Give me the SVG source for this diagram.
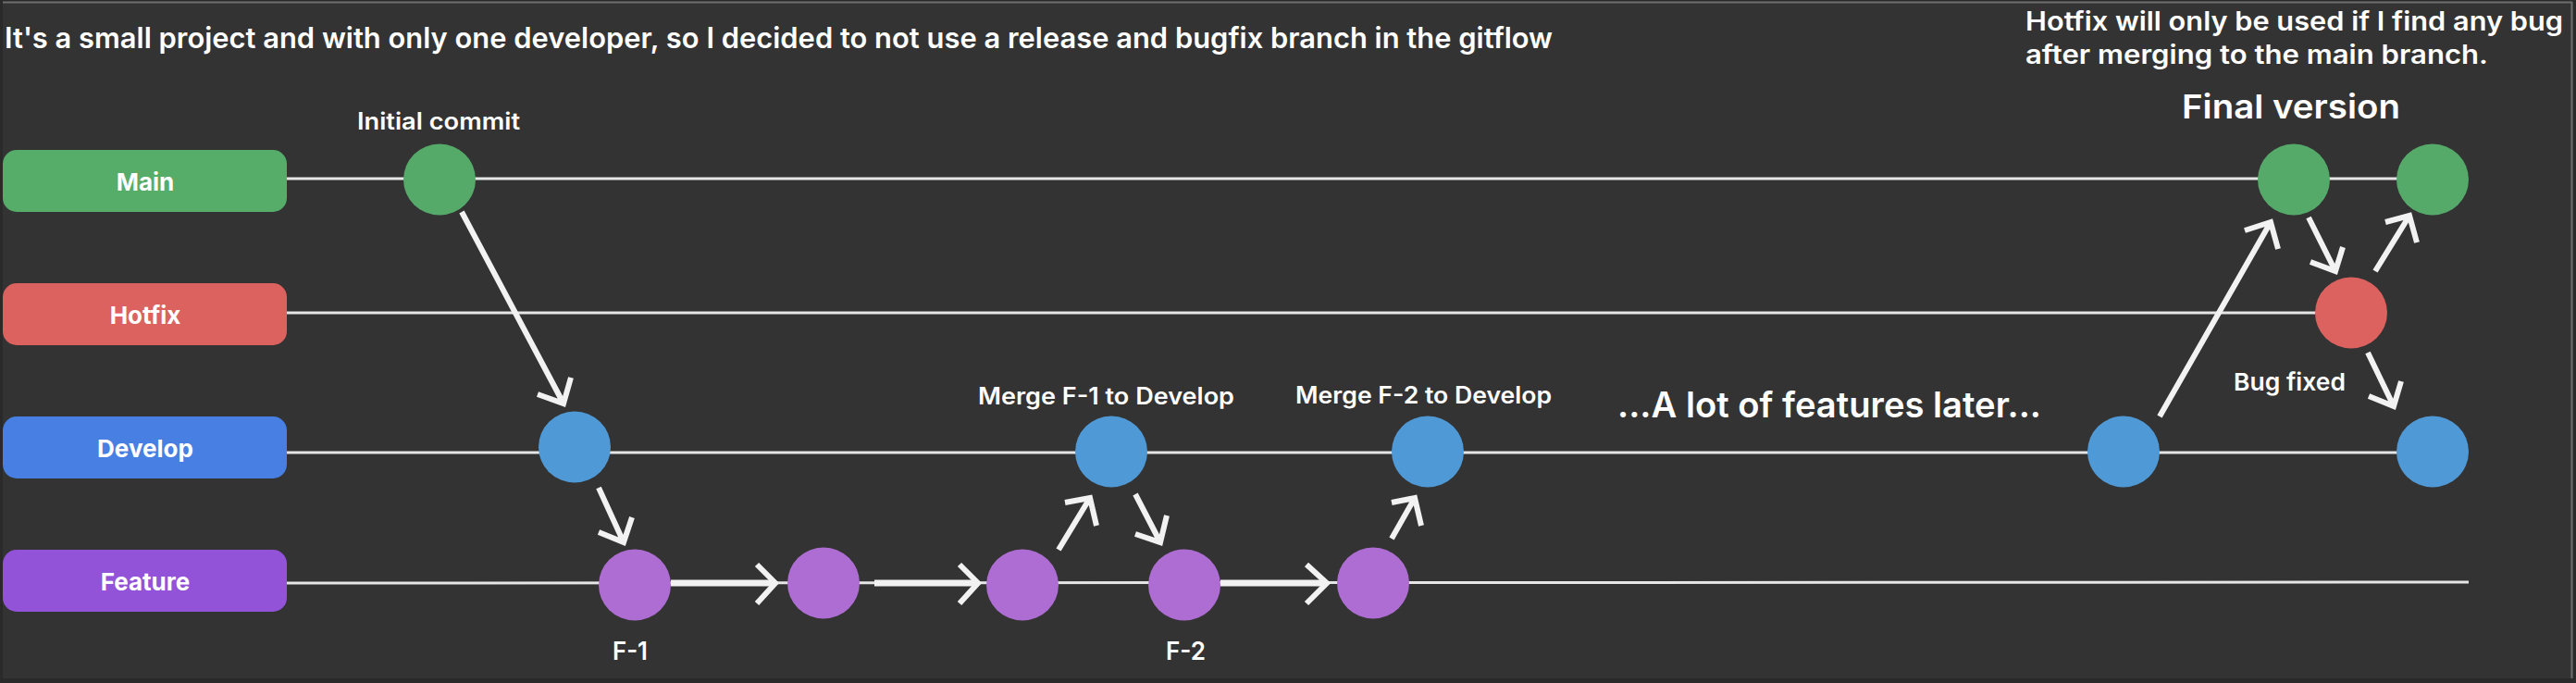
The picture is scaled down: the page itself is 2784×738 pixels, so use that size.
<svg xmlns="http://www.w3.org/2000/svg" width="2784" height="738" viewBox="0 0 2784 738">
<style>
.t{font-family:Inter,"Noto Sans","Liberation Sans",sans-serif;font-weight:600;fill:#ffffff}
.lbl{font-family:Inter,"Noto Sans","Liberation Sans",sans-serif;font-weight:700;fill:#ffffff;font-size:26px;text-anchor:middle}
.lane{stroke:#e6e6e6;stroke-width:3;fill:none}
.arr{stroke:#f2f2f2;stroke-width:6;fill:none;stroke-linecap:butt;stroke-linejoin:miter}
.harr{stroke:#f2f2f2;stroke-width:7;fill:none}
.main{fill:#55aa6a}.hot{fill:#db625e}.dev{fill:#4f9ad6}.feat{fill:#ae6dd2}
</style>
<rect x="0" y="0" width="2784" height="738" fill="#2a2a2a"/>
<rect x="3" y="2" width="2777" height="731" fill="#333333"/>
<line x1="3" y1="2.5" x2="2780" y2="2.5" stroke="#6e6e6e" stroke-width="2"/>
<line x1="2779.5" y1="2" x2="2779.5" y2="733" stroke="#6e6e6e" stroke-width="2"/>

<g id="texts">
<text class="t" x="5" y="52" font-size="31" textLength="1673" lengthAdjust="spacingAndGlyphs">It's a small project and with only one developer, so I decided to not use a release and bugfix branch in the gitflow</text>
<text class="t" x="2189" y="33" font-size="28" textLength="581" lengthAdjust="spacingAndGlyphs">Hotfix will only be used if I find any bug</text>
<text class="t" x="2189" y="69" font-size="28" textLength="500" lengthAdjust="spacingAndGlyphs">after merging to the main branch.</text>
<text class="t" x="2358" y="128" font-size="36" textLength="236" lengthAdjust="spacingAndGlyphs">Final version</text>
<text class="t" x="386" y="140" font-size="25" textLength="176" lengthAdjust="spacingAndGlyphs">Initial commit</text>
<text class="t" x="1057" y="437" font-size="25" textLength="277" lengthAdjust="spacingAndGlyphs">Merge F-1 to Develop</text>
<text class="t" x="1400" y="436" font-size="25" textLength="277" lengthAdjust="spacingAndGlyphs">Merge F-2 to Develop</text>
<text class="t" x="1748" y="451" font-size="38" textLength="458" lengthAdjust="spacingAndGlyphs">...A lot of features later...</text>
<text class="t" x="2414" y="422" font-size="26" textLength="121" lengthAdjust="spacingAndGlyphs">Bug fixed</text>
<text class="t" x="662" y="713" font-size="27" textLength="38" lengthAdjust="spacingAndGlyphs">F-1</text>
<text class="t" x="1260" y="713" font-size="27" textLength="43" lengthAdjust="spacingAndGlyphs">F-2</text>
</g>

<g id="lanes">
<line class="lane" x1="310" y1="193" x2="2629" y2="193"/>
<line class="lane" x1="310" y1="338" x2="2541" y2="338"/>
<line class="lane" x1="310" y1="489" x2="2629" y2="489"/>
<line class="lane" x1="310" y1="630" x2="2668" y2="629"/>
</g>

<g id="branch-main"><rect x="3" y="162" width="307" height="67" rx="15" fill="#56ac69"/><text class="lbl" x="157" y="206">Main</text></g>
<g id="branch-hotfix"><rect x="3" y="306" width="307" height="67" rx="15" fill="#db625e"/><text class="lbl" x="157" y="350">Hotfix</text></g>
<g id="branch-develop"><rect x="3" y="450" width="307" height="67" rx="15" fill="#477fe2"/><text class="lbl" x="157" y="494">Develop</text></g>
<g id="branch-feature"><rect x="3" y="594" width="307" height="67" rx="15" fill="#9253d8"/><text class="lbl" x="157" y="638">Feature</text></g>

<g id="commit-main-1"><ellipse class="main" cx="475" cy="194" rx="39" ry="38.5"/></g>
<g id="commit-main-2"><ellipse class="main" cx="2479" cy="194" rx="39" ry="38.5"/></g>
<g id="commit-main-3"><ellipse class="main" cx="2629" cy="194" rx="39" ry="38.5"/></g>
<g id="commit-hotfix-1"><ellipse class="hot" cx="2541" cy="338" rx="39" ry="38.5"/></g>
<g id="commit-dev-1"><ellipse class="dev" cx="621" cy="483" rx="39" ry="38.5"/></g>
<g id="commit-dev-2"><ellipse class="dev" cx="1201" cy="488" rx="39" ry="38.5"/></g>
<g id="commit-dev-3"><ellipse class="dev" cx="1543" cy="488" rx="39" ry="38.5"/></g>
<g id="commit-dev-4"><ellipse class="dev" cx="2295" cy="488" rx="39" ry="38.5"/></g>
<g id="commit-dev-5"><ellipse class="dev" cx="2629" cy="488" rx="39" ry="38.5"/></g>
<g id="commit-feat-1"><ellipse class="feat" cx="686" cy="632" rx="39" ry="38.5"/></g>
<g id="commit-feat-2"><ellipse class="feat" cx="890" cy="630" rx="39" ry="38.5"/></g>
<g id="commit-feat-3"><ellipse class="feat" cx="1105" cy="632" rx="39" ry="38.5"/></g>
<g id="commit-feat-4"><ellipse class="feat" cx="1280" cy="632" rx="39" ry="38.5"/></g>
<g id="commit-feat-5"><ellipse class="feat" cx="1484" cy="630" rx="39" ry="38.5"/></g>

<g id="connectors">
<path class="arr" d="M499 229 L609 436 M581 426 L609 436 L617 408"/>
<path class="arr" d="M647 527 L674 586 M647 575 L674 586 L683 559"/>
<path class="harr" d="M725 630 L836 630"/><path class="arr" d="M818 610 L838 630 L818 652"/>
<path class="harr" d="M945 630 L1055 630"/><path class="arr" d="M1037 610 L1057 630 L1037 652"/>
<path class="harr" d="M1319 630 L1432 630"/><path class="arr" d="M1412 610 L1434 630 L1412 652"/>
<path class="arr" d="M1144 594 L1178 538 M1151 543 L1178 538 L1185 568"/>
<path class="arr" d="M1227 534 L1254 586 M1227 577 L1254 586 L1261 557"/>
<path class="arr" d="M1504 582 L1529 538 M1504 543 L1529 538 L1536 568"/>
<path class="arr" d="M2334 450 L2454 240 M2426 249 L2454 240 L2462 269"/>
<path class="arr" d="M2495 235 L2524 293 M2497 283 L2524 293 L2532 267"/>
<path class="arr" d="M2567 293 L2604 233 M2578 240 L2604 233 L2612 262"/>
<path class="arr" d="M2559 381 L2587 439 M2560 428 L2587 439 L2595 412"/>
</g>
</svg>
